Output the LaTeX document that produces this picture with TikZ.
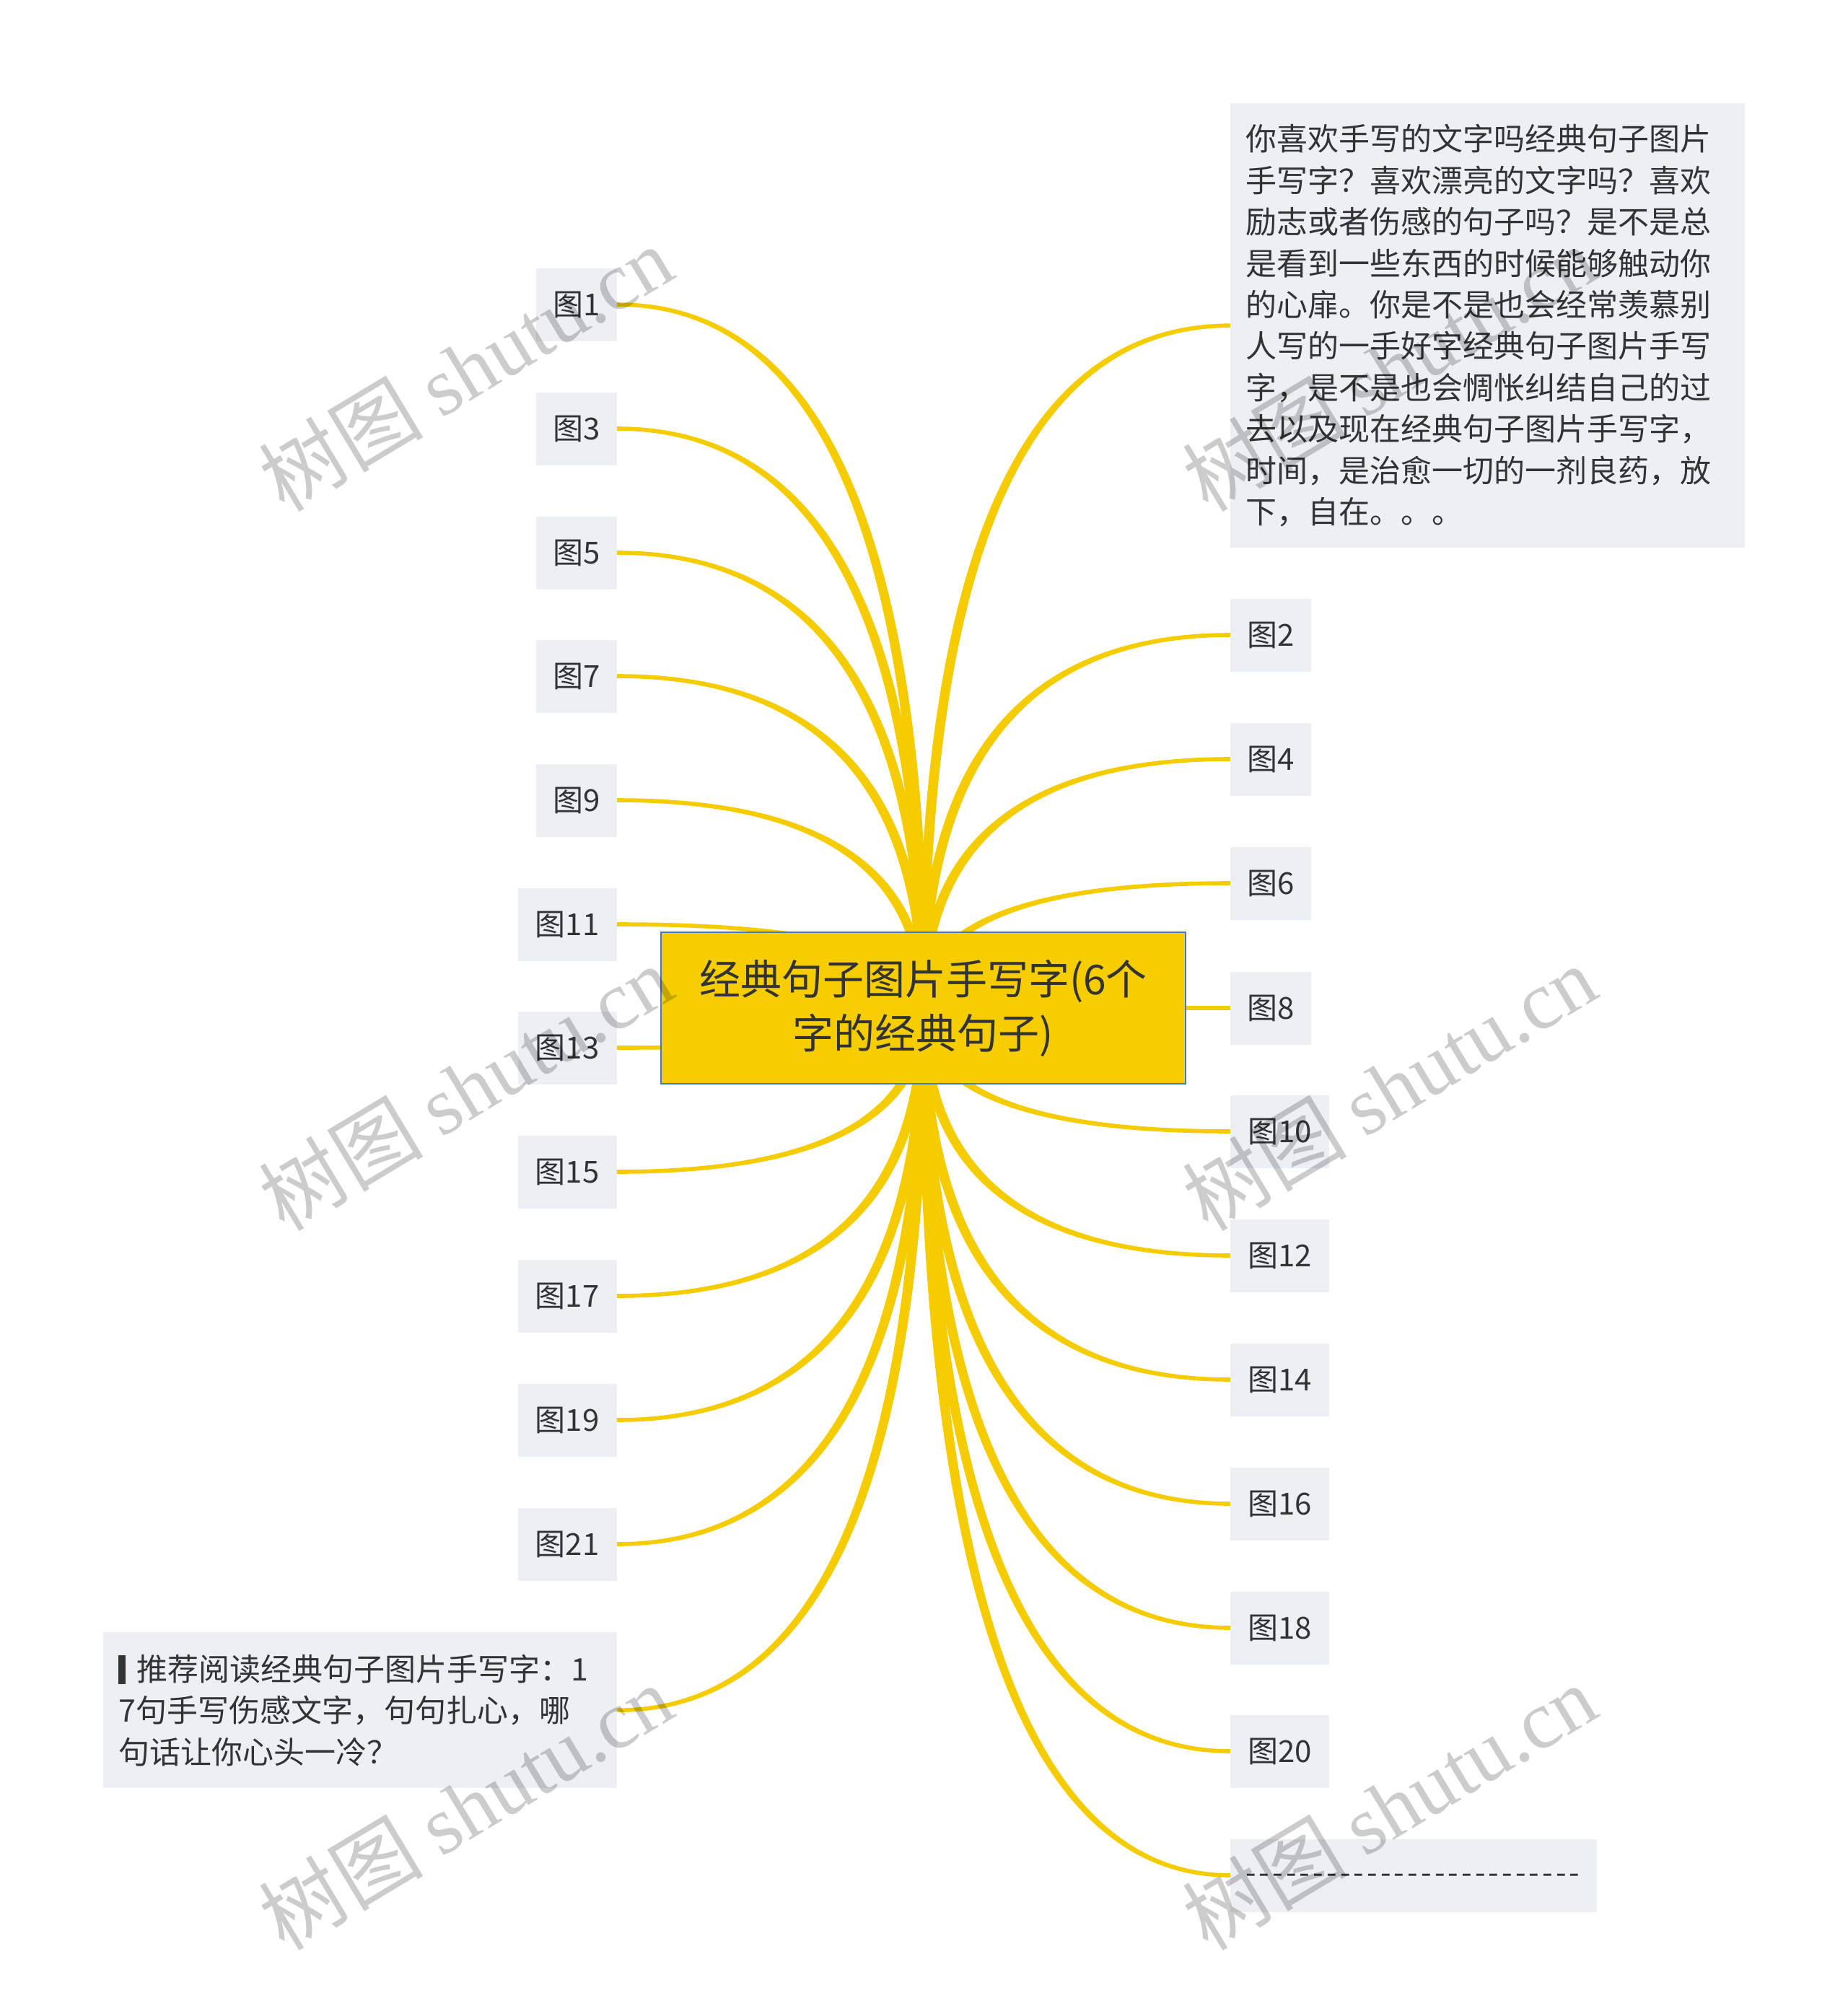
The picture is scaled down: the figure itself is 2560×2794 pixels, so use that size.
\documentclass[tikz,border=0pt]{standalone}
\usepackage{fontspec}
\setmainfont{Noto Sans CJK SC}
\newfontfamily\wmlatin{Liberation Serif}
\usetikzlibrary{calc,backgrounds}
\definecolor{branchc}{HTML}{F4CC00}
\definecolor{rootfill}{HTML}{F5CD00}
\definecolor{rootline}{HTML}{3E7CC6}
\definecolor{leafbg}{HTML}{EDF0F3}
\definecolor{txt}{HTML}{333333}
\newcommand\wa{7}
\newcommand\wb{2.8}
\newcommand\branch[2]{%
  \coordinate (bP) at (#1);
  \coordinate (bQ) at (root.center |- bP);
  \coordinate (bSa) at ($(root.center)+({(#2)*\wa},0)$);
  \coordinate (bQa) at ($(bQ)+({(#2)*\wa},-\wb)$);
  \coordinate (bEa) at ($(bP)+(0,-\wb)$);
  \coordinate (bSb) at ($(root.center)+({-(#2)*\wa},0)$);
  \coordinate (bQb) at ($(bQ)+({-(#2)*\wa},\wb)$);
  \coordinate (bEb) at ($(bP)+(0,\wb)$);
  \fill[branchc] (bSa) .. controls ($(bSa)!2/3!(bQa)$) and ($(bEa)!2/3!(bQa)$) .. (bEa)
     -- (bEb) .. controls ($(bEb)!2/3!(bQb)$) and ($(bSb)!2/3!(bQb)$) .. (bSb) -- cycle;
}
\newcommand\dashrow{\raisebox{-11pt}[0pt][0pt]{\foreach \i in {1,...,25}{\makebox[18.7pt][l]{-}}}}
\begin{document}
\begin{tikzpicture}[x=1pt,y=-1pt,
  leaf/.style={fill=leafbg, text=txt, inner sep=0pt, minimum height=101pt,
    font=\fontsize{42}{56}\selectfont},
  leafL/.style={leaf, anchor=east},
  leafR/.style={leaf, anchor=west},
  sw/.style={minimum width=112pt},
  dw/.style={minimum width=137pt},
  textbox/.style={fill=leafbg, text=txt, inner xsep=21pt, inner ysep=0pt, align=left,
    font=\fontsize{43}{57.4}\selectfont, anchor=north west},
  rootbox/.style={fill=rootfill, draw=rootline, line width=2pt, text=txt, align=center,
    minimum width=727pt, minimum height=210pt, inner sep=0pt,
    font=\fontsize{57}{75}\selectfont},
  wm/.style={text=black, text opacity=0.2, rotate=31, font=\fontsize{114}{114}\selectfont}]
\useasboundingbox (0,0) rectangle (2560,2794);
% root
\node[rootbox] (root) at (1279.5,1397) {经典句子图片手写字(6个\\字的经典句子)};
% left children
\node[leafL,sw] (n1) at (855,422) {图1};
\node[leafL,sw] (n3) at (855,594) {图3};
\node[leafL,sw] (n5) at (855,766) {图5};
\node[leafL,sw] (n7) at (855,937) {图7};
\node[leafL,sw] (n9) at (855,1109) {图9};
\node[leafL,dw] (n11) at (855,1281) {图11};
\node[leafL,dw] (n13) at (855,1452) {图13};
\node[leafL,dw] (n15) at (855,1624) {图15};
\node[leafL,dw] (n17) at (855,1796) {图17};
\node[leafL,dw] (n19) at (855,1968) {图19};
\node[leafL,dw] (n21) at (855,2140) {图21};
\node[textbox, minimum width=712pt, minimum height=216pt, text width=670pt] (bl) at (143,2262)
  {\textcolor{txt}{\rule[-0.12em]{10pt}{0.95em}}\hspace{15pt}推荐阅读经典句子图片手写字：1\\
   7句手写伤感文字，句句扎心，哪\\
   句话让你心头一冷？};
% right children
\node[textbox, minimum width=713pt, minimum height=616pt, text width=671pt] (tr) at (1705,143)
  {你喜欢手写的文字吗经典句子图片\\
   手写字？喜欢漂亮的文字吗？喜欢\\
   励志或者伤感的句子吗？是不是总\\
   是看到一些东西的时候能够触动你\\
   的心扉。你是不是也会经常羡慕别\\
   人写的一手好字经典句子图片手写\\
   字，是不是也会惆怅纠结自己的过\\
   去以及现在经典句子图片手写字，\\
   时间，是治愈一切的一剂良药，放\\
   下，自在。。。};
\node[leafR,sw] (n2) at (1705,880) {图2};
\node[leafR,sw] (n4) at (1705,1052) {图4};
\node[leafR,sw] (n6) at (1705,1224) {图6};
\node[leafR,sw] (n8) at (1705,1397) {图8};
\node[leafR,dw] (n10) at (1705,1568) {图10};
\node[leafR,dw] (n12) at (1705,1740) {图12};
\node[leafR,dw] (n14) at (1705,1912) {图14};
\node[leafR,dw] (n16) at (1705,2084) {图16};
\node[leafR,dw] (n18) at (1705,2256) {图18};
\node[leafR,dw] (n20) at (1705,2427) {图20};
\node[leafR, minimum width=508pt, text width=466pt, align=left] (dl) at (1705,2599) {\dashrow};
% connectors
\begin{pgfonlayer}{background}
  \fill[white] (0,0) rectangle (2560,2794);
  \branch{n1.east}{1}
  \branch{n3.east}{1}
  \branch{n5.east}{1}
  \branch{n7.east}{1}
  \branch{n9.east}{1}
  \branch{n11.east}{1}
  \branch{n13.east}{-1}
  \branch{n15.east}{-1}
  \branch{n17.east}{-1}
  \branch{n19.east}{-1}
  \branch{n21.east}{-1}
  \branch{bl.east}{-1}
  \branch{tr.west}{-1}
  \branch{n2.west}{-1}
  \branch{n4.west}{-1}
  \branch{n6.west}{-1}
  \branch{n8.west}{1}
  \branch{n10.west}{1}
  \branch{n12.west}{1}
  \branch{n14.west}{1}
  \branch{n16.west}{1}
  \branch{n18.west}{1}
  \branch{n20.west}{1}
  \branch{dl.west}{1}
\end{pgfonlayer}
% watermarks
\node[wm] (w1) at (645,510) {树图 {\wmlatin shutu.cn}};
\node[wm] (w2) at (645,1507) {树图 {\wmlatin shutu.cn}};
\node[wm] (w3) at (645,2504) {树图 {\wmlatin shutu.cn}};
\node[wm] (w4) at (1925,510) {树图 {\wmlatin shutu.cn}};
\node[wm] (w5) at (1925,1507) {树图 {\wmlatin shutu.cn}};
\node[wm] (w6) at (1925,2504) {树图 {\wmlatin shutu.cn}};
\end{tikzpicture}
\end{document}
